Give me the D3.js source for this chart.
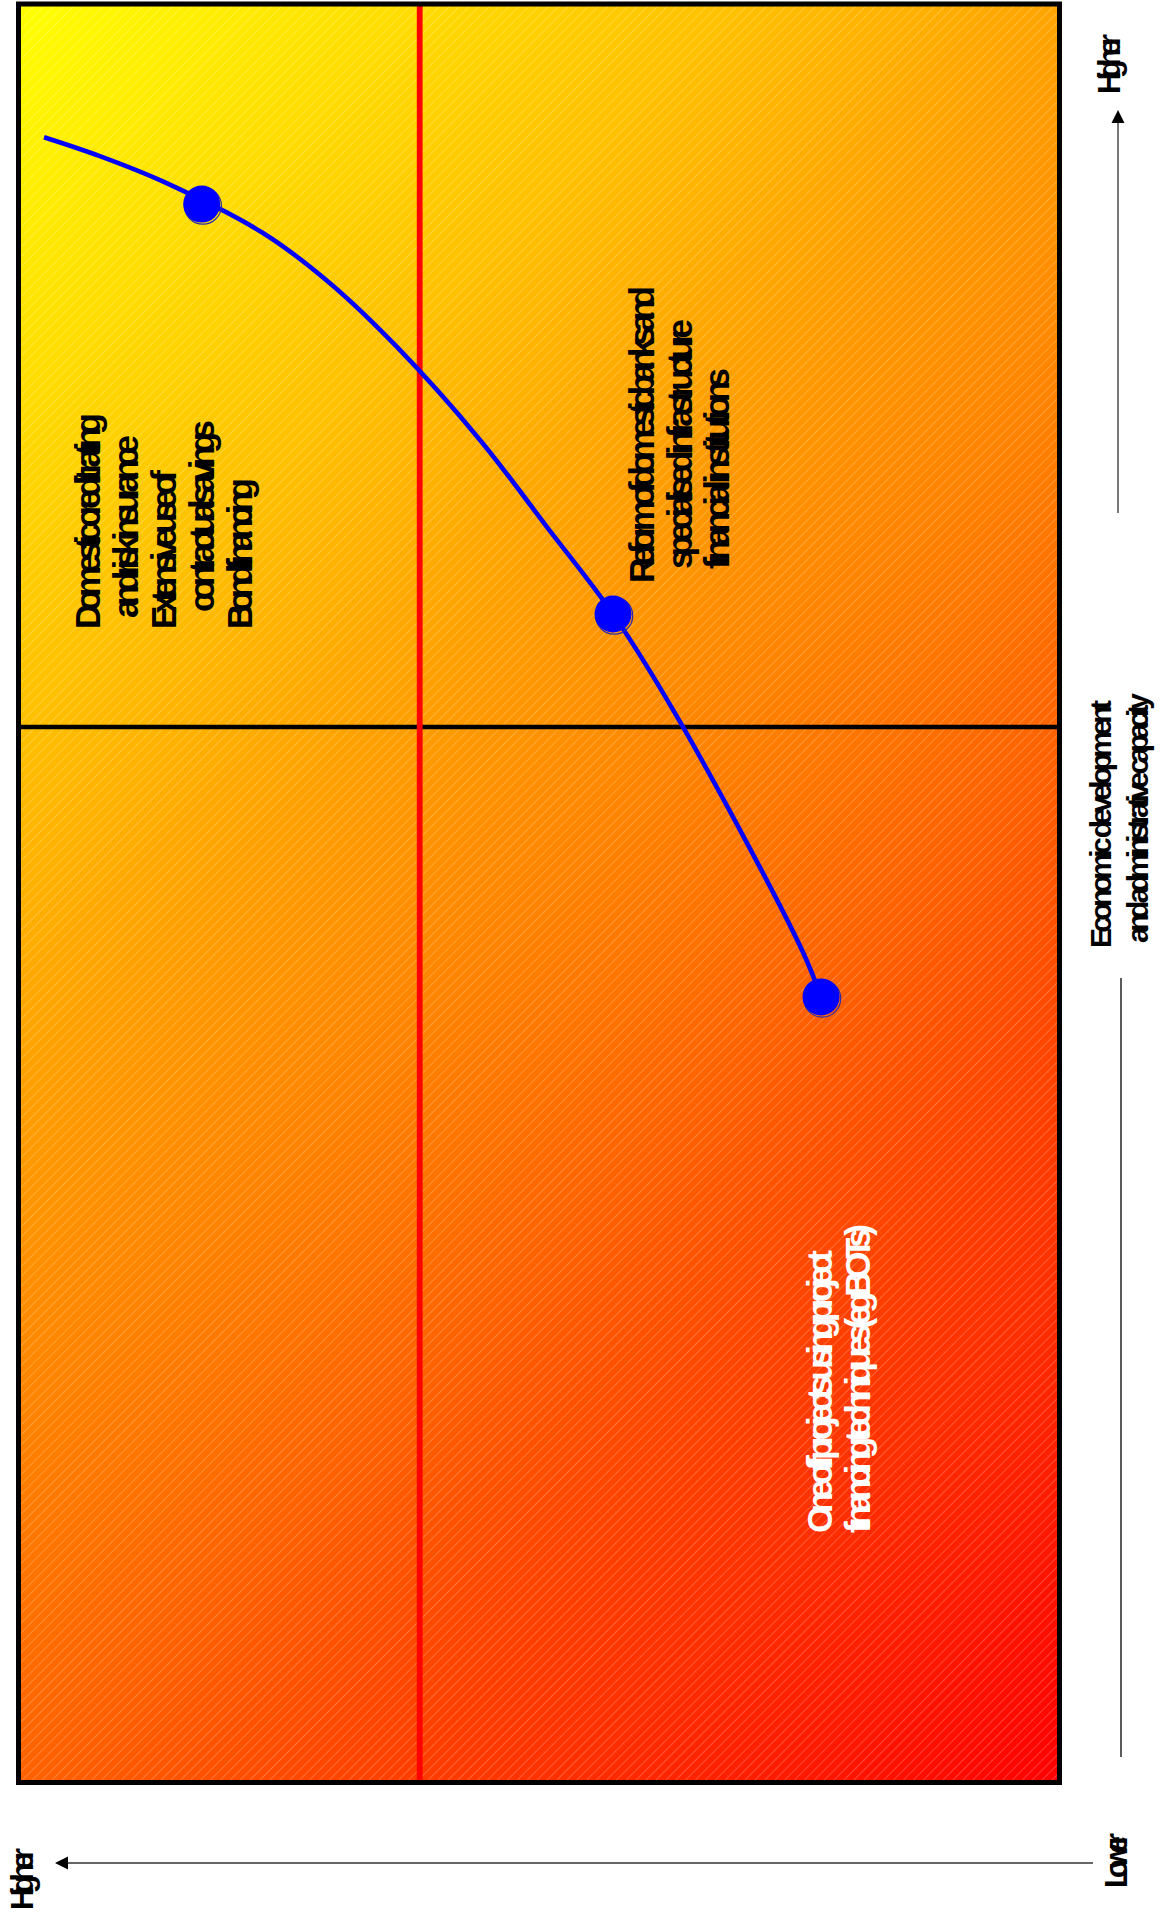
<!DOCTYPE html>
<html>
<head>
<meta charset="utf-8">
<script src="https://cdn.jsdelivr.net/npm/d3@7"></script>
<style>
  html, body { margin: 0; padding: 0; background: #ffffff; }
  svg { display: block; }
  text { font-family: "Liberation Sans", Arial, sans-serif; font-weight: bold; }
</style>
</head>
<body>
<svg id="chart" width="1162" height="1919"></svg>
<script>
// ---------------- DATA ----------------
// Horizontal axis (drawn right = lower, left = higher): financing sophistication, 0..100
// Vertical axis (bottom = lower, top = higher): economic development and administrative capacity, 0..100
const pathSophistication = [97.55, 92.49, 86.09, 76.48, 70.08, 63.67, 55.67, 49.23, 42.89, 36.17, 24.74, 22.91];
const pathDevelopment    = [92.51, 91.51, 90.01, 87.11, 84.30, 80.73, 75.49, 70.59, 65.70, 59.35, 46.81, 44.17];

const stageSophistication = [82.40, 42.89, 22.91];
const stageDevelopment    = [88.75, 65.70, 44.17];

const dividerSophistication = 61.46;  // red vertical line
const dividerDevelopment    = 59.35;  // black horizontal line

const noteTopLeft = ["Domestic credit rating", "and risk insurance", "Extensive use of", "contractual savings", "Bond financing"];
const noteMiddle  = ["Reform of domestic banks and", "specialised infrastructure", "financial institutions"];
const noteBottom  = ["One off projects using project", "financing techniques (eg BOTs)"];
const axisTitle   = ["Economic development", "and administrative capacity"];
const axisEnds    = ["Higher", "Lower"];

// ---------------- LAYOUT ----------------
const svg = d3.select("#chart");
const frame = { left: 18.5, right: 1059.5, top: 4, bottom: 1782.5 };

const x = d3.scaleLinear().domain([0, 100]).range([frame.right, frame.left]);
const y = d3.scaleLinear().domain([0, 100]).range([frame.bottom, frame.top]);

const defs = svg.append("defs");
const diag = ((frame.right - frame.left) + (frame.bottom - frame.top)) / 2;
const grad = defs.append("linearGradient")
  .attr("id", "bg")
  .attr("gradientUnits", "userSpaceOnUse")
  .attr("x1", frame.left).attr("y1", frame.top)
  .attr("x2", frame.left + diag).attr("y2", frame.top + diag);
grad.append("stop").attr("offset", 0).attr("stop-color", "#ffff00");
grad.append("stop").attr("offset", 0.5).attr("stop-color", "#ff8400");
grad.append("stop").attr("offset", 1).attr("stop-color", "#ff0000");

const pat = defs.append("pattern")
  .attr("id", "hatch")
  .attr("patternUnits", "userSpaceOnUse")
  .attr("width", 7).attr("height", 7)
  .attr("patternTransform", "rotate(-45)");
pat.append("line").attr("x1", 0).attr("y1", 0.5).attr("x2", 7).attr("y2", 0.5)
  .attr("stroke", "#ffffff").attr("stroke-opacity", 0.22).attr("stroke-width", 1);

// background
svg.append("rect")
  .attr("x", frame.left).attr("y", frame.top)
  .attr("width", frame.right - frame.left).attr("height", frame.bottom - frame.top)
  .attr("fill", "url(#bg)");
svg.append("rect")
  .attr("x", frame.left).attr("y", frame.top)
  .attr("width", frame.right - frame.left).attr("height", frame.bottom - frame.top)
  .attr("fill", "url(#hatch)");

// dividers
svg.append("line")
  .attr("x1", frame.left).attr("x2", frame.right)
  .attr("y1", y(dividerDevelopment)).attr("y2", y(dividerDevelopment))
  .attr("stroke", "#000").attr("stroke-width", 4.5);
svg.append("line")
  .attr("x1", x(dividerSophistication)).attr("x2", x(dividerSophistication))
  .attr("y1", frame.top).attr("y2", frame.bottom)
  .attr("stroke", "#ff0000").attr("stroke-width", 5.8);

// frame
svg.append("rect")
  .attr("x", frame.left).attr("y", frame.top)
  .attr("width", frame.right - frame.left).attr("height", frame.bottom - frame.top)
  .attr("fill", "none").attr("stroke", "#000").attr("stroke-width", 5);

// curve
const pathData = pathSophistication.map((s, i) => [s, pathDevelopment[i]]);
const line = d3.line().x(d => x(d[0])).y(d => y(d[1])).curve(d3.curveCatmullRom.alpha(0.5));
svg.append("path").datum(pathData)
  .attr("d", line)
  .attr("fill", "none").attr("stroke", "#0000ff").attr("stroke-width", 4.6);

// stage dots
const stages = stageSophistication.map((s, i) => [s, stageDevelopment[i]]);
svg.selectAll("circle.ring").data(stages).enter().append("circle")
  .attr("class", "ring")
  .attr("cx", d => x(d[0]) + 1.2).attr("cy", d => y(d[1]) + 1.6).attr("r", 18.5)
  .attr("fill", "none").attr("stroke", "#2a2ab0").attr("stroke-width", 1.2);
svg.selectAll("circle.dot").data(stages).enter().append("circle")
  .attr("class", "dot")
  .attr("cx", d => x(d[0])).attr("cy", d => y(d[1])).attr("r", 18.5)
  .attr("fill", "#0000ff");

// rotated text helper: baseline at screen x = bx, starting at screen y = sy, reading upward
function vText(str, bx, sy, len, size, color) {
  svg.append("text")
    .attr("transform", `translate(${bx},${sy}) rotate(-90)`)
    .attr("text-anchor", "start")
    .attr("font-size", size)
    .attr("fill", color)
    .attr("textLength", len)
    .attr("lengthAdjust", "spacing")
    .text(str);
}

// quadrant notes
const tlBase = [100, 138, 176, 214, 252], tlStart = [629, 618, 629, 612, 629], tlLen = [216, 183, 159, 192, 151];
noteTopLeft.forEach((t, i) => vText(t, tlBase[i], tlStart[i], tlLen[i], 35, "#000"));

const mBase = [654, 692, 729], mStart = [583, 569, 569], mLen = [297, 250, 201];
noteMiddle.forEach((t, i) => vText(t, mBase[i], mStart[i], mLen[i], 35, "#000"));

const bBase = [832, 870], bStart = [1533, 1533], bLen = [283, 309];
noteBottom.forEach((t, i) => vText(t, bBase[i], bStart[i], bLen[i], 35, "#fff"));

// vertical axis (economic development)
const axX1 = 1118, axX2 = 1121;
svg.append("line").attr("x1", axX1).attr("x2", axX1).attr("y1", 122).attr("y2", 513)
  .attr("stroke", "#555").attr("stroke-width", 1.6);
svg.append("path").attr("d", d3.line()([[axX1 - 6.5, 123], [axX1, 110], [axX1 + 6.5, 123]]) + "Z")
  .attr("fill", "#000");
svg.append("line").attr("x1", axX2).attr("x2", axX2).attr("y1", 978).attr("y2", 1757)
  .attr("stroke", "#333").attr("stroke-width", 1.6);

vText(axisTitle[0], 1111, 948, 248, 30, "#000");
vText(axisTitle[1], 1148, 943, 250, 30, "#000");
vText(axisEnds[0], 1120, 94, 60, 31, "#000");

// horizontal axis at bottom
const axY = 1863;
svg.append("line").attr("x1", 66).attr("x2", 1093).attr("y1", axY).attr("y2", axY)
  .attr("stroke", "#333").attr("stroke-width", 1.6);
svg.append("path").attr("d", d3.line()([[68, axY - 6.5], [55, axY], [68, axY + 6.5]]) + "Z")
  .attr("fill", "#000");
vText(axisEnds[0], 33, 1910, 62, 31, "#000");
vText(axisEnds[1], 1127, 1888, 55, 31, "#000");
</script>
</body>
</html>
